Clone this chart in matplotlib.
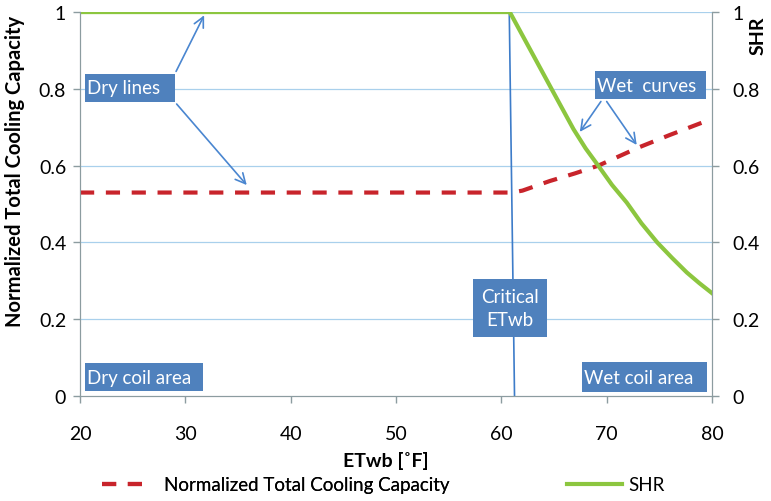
import matplotlib.pyplot as plt
from matplotlib.lines import Line2D
from matplotlib.patches import Rectangle

plt.rcParams['font.family'] = ['Lato', 'DejaVu Sans']

# data
etwb_cap = [20, 61, 62, 64.6, 67, 69.2, 73, 76, 80]
capacity = [0.53, 0.53, 0.535, 0.56, 0.58, 0.60, 0.647, 0.68, 0.722]
etwb_shr = [20, 60.8, 63, 65, 66.85, 68, 69.2, 70.5, 71.9, 73.3, 74.8, 76.2, 77.6, 78.8, 80]
shr = [1.0, 1.0, 0.889, 0.788, 0.695, 0.645, 0.60, 0.55, 0.504, 0.45, 0.40, 0.36, 0.322, 0.294, 0.268]
crit_x = [60.75, 61.25]
crit_y = [1.0, 0.0]

blue_box = '#4f81bd'
arrow_c = '#4a86d0'
red = '#c8242b'
green = '#8cc63f'
dash = (0, (3.4, 2.8))

fig = plt.figure(figsize=(7.71, 5.02), dpi=100)
ax = fig.add_axes([0.1038, 0.209, 0.8197, 0.765])
ax2 = ax.twinx()

for y in [0.2, 0.4, 0.6, 0.8, 1.0]:
    ax.axhline(y, color='#a9d0ec', lw=0.9, zorder=0)

ax.plot(etwb_cap, capacity, color=red, lw=3, ls=dash, zorder=3)
ax.plot(etwb_shr, shr, color=green, lw=3, zorder=4, solid_joinstyle='round')
ax.plot(crit_x, crit_y, color='#3d7cc9', lw=1.2, zorder=2)

ax.set_xlim(20, 80)
ax.set_ylim(0, 1)
ax2.set_ylim(0, 1)
ax.set_xticks(range(20, 81, 10))
ticks = [0, 0.2, 0.4, 0.6, 0.8, 1]
labels = ['0', '0.2', '0.4', '0.6', '0.8', '1']
ax.set_yticks(ticks)
ax2.set_yticks(ticks)
ax.set_yticklabels(labels)
ax2.set_yticklabels(labels)

for a in (ax, ax2):
    a.spines['top'].set_visible(False)
    for s in ('left', 'right', 'bottom'):
        a.spines[s].set_color('#8c9ca0')
    a.tick_params(colors='#8c9ca0', labelcolor='black', labelsize=14, length=5, width=1)
ax.tick_params(axis='x', pad=16)
ax.tick_params(axis='y', pad=5)
ax2.tick_params(axis='y', pad=10)

fig.text(0.5, (502 - 461) / 502, 'ETwb [˚F]', fontsize=14, fontweight='bold', ha='center', va='center')
fig.text(15 / 771, (502 - 171) / 502, 'Normalized Total Cooling Capacity', rotation=90,
         fontsize=14.5, fontweight='bold', ha='center', va='center')
fig.text(758 / 771, (502 - 36) / 502, 'SHR', rotation=90, fontsize=14, fontweight='bold',
         ha='center', va='center')

# annotation boxes: (x0, x1, y0, y1, text)
boxes = [
    (20.47, 29.02, 0.766, 0.839, 'Dry lines'),
    (68.9, 79.45, 0.773, 0.846, 'Wet  curves'),
    (20.47, 31.7, 0.013, 0.086, 'Dry coil area'),
    (67.7, 79.55, 0.010, 0.0885, 'Wet coil area'),
]
for x0, x1, y0, y1, t in boxes:
    ax.add_patch(Rectangle((x0, y0), x1 - x0, y1 - y0, fc=blue_box, ec='none', zorder=6))
    ax.text(x0 + 0.15, (y0 + y1) / 2, t, fontsize=13.5, color='white', va='center', zorder=7)

ax.add_patch(Rectangle((57.3, 0.154), 7.05, 0.151, fc=blue_box, ec='none', zorder=6))
ax.text(60.85, 0.2295, 'Critical\nETwb', fontsize=13.5, color='white', ha='center', va='center',
        linespacing=1.45, zorder=7)

arr = dict(arrowstyle='->', color=arrow_c, lw=1.2, mutation_scale=18)
ax.annotate('', xy=(31.9, 0.998), xytext=(29.0, 0.839), arrowprops=arr, zorder=5)
ax.annotate('', xy=(36.0, 0.544), xytext=(29.0, 0.766), arrowprops=arr, zorder=5)
ax.annotate('', xy=(67.3, 0.682), xytext=(69.6, 0.773), arrowprops=arr, zorder=5)
ax.annotate('', xy=(73.0, 0.648), xytext=(69.85, 0.773), arrowprops=arr, zorder=5)

leg1 = fig.legend([Line2D([], [], color=red, lw=3, ls=dash)], ['Normalized Total Cooling Capacity'],
                  loc='center left', bbox_to_anchor=(102 / 771, 0.032), frameon=False, fontsize=13.5,
                  handlelength=2.4, handletextpad=0.9, borderpad=0, borderaxespad=0)
fig.legend([Line2D([], [], color=green, lw=3)], ['SHR'],
           loc='center left', bbox_to_anchor=(567 / 771, 0.032), frameon=False, fontsize=13.5,
           handlelength=2.95, handletextpad=0.3, borderpad=0, borderaxespad=0)
fig.add_artist(leg1)

fig.savefig('out.png', dpi=100)
